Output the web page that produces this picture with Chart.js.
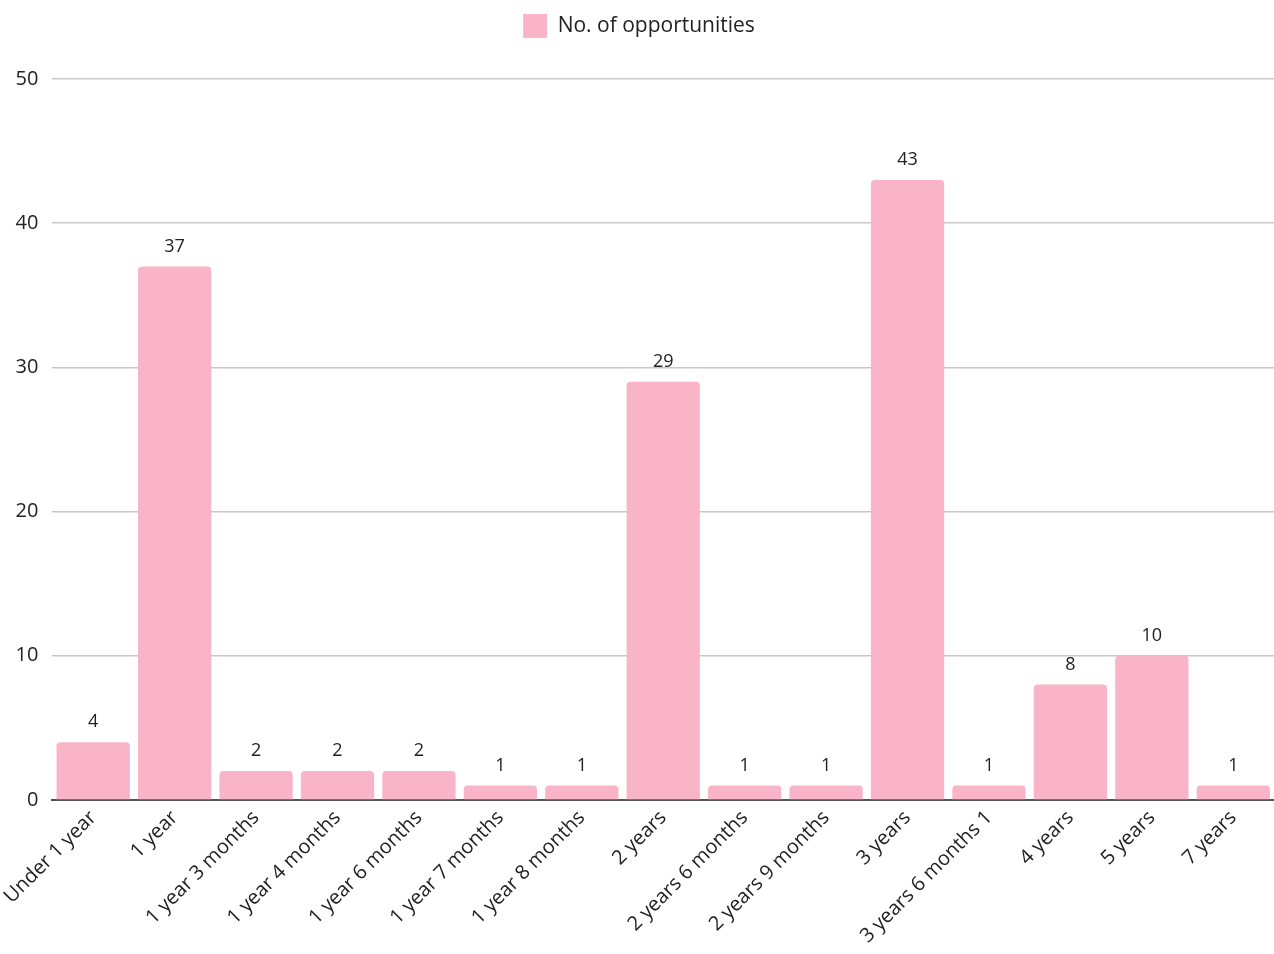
<!DOCTYPE html>
<html>
<head>
<meta charset="utf-8">
<script src="https://cdn.jsdelivr.net/npm/chart.js@4/dist/chart.umd.min.js"></script>
<style>
html,body{margin:0;padding:0;background:#fff;}
#wrap{width:1274px;height:954px;position:relative;}
</style>
</head>
<body>
<div id="wrap"><canvas id="c" width="1274" height="954"></canvas></div>
<script>
const categories = ["Under 1 year","1 year","1 year 3 months","1 year 4 months","1 year 6 months","1 year 7 months","1 year 8 months","2 years","2 years 6 months","2 years 9 months","3 years","3 years 6 months 1","4 years","5 years","7 years"];
const opportunities = [4,37,2,2,2,1,1,29,1,1,43,1,8,10,1];
const seriesName = "No. of opportunities";
const yTicks = [0,10,20,30,40,50];

const FONT = "'Open Sans', 'Noto Sans', sans-serif";

const valueLabels = {
  id: 'valueLabels',
  afterDatasetsDraw(chart) {
    const ctx = chart.ctx;
    const meta = chart.getDatasetMeta(0);
    ctx.save();
    ctx.font = "18px " + FONT;
    ctx.fillStyle = "#222";
    ctx.textAlign = "center";
    ctx.textBaseline = "bottom";
    meta.data.forEach((bar, i) => {
      ctx.fillText(String(opportunities[i]), bar.x, bar.y - 11);
    });
    ctx.restore();
  }
};

const legendSpacer = {
  id: 'legendSpacer',
  beforeInit(chart) {
    const orig = chart.legend.fit;
    chart.legend.fit = function() {
      orig.call(this);
      this.height += 31;
    };
  }
};

new Chart(document.getElementById('c'), {
  type: 'bar',
  data: {
    labels: categories,
    datasets: [{
      label: seriesName,
      data: opportunities,
      backgroundColor: '#f9b4c8',
      borderRadius: {topLeft: 4, topRight: 4, bottomLeft: 0, bottomRight: 0},
      borderSkipped: 'bottom',
      barPercentage: 0.9,
      categoryPercentage: 1.0
    }]
  },
  options: {
    responsive: false,
    animation: false,
    layout: {padding: {top: 0, right: -4, left: 0, bottom: 0}},
    plugins: {
      legend: {
        position: 'top',
        labels: {
          boxWidth: 24, boxHeight: 24, padding: 14,
          color: '#222',
          font: {family: FONT, size: 21}
        }
      },
      tooltip: {enabled: false}
    },
    scales: {
      x: {
        grid: {display: false, drawTicks: false},
        border: {display: true, color: '#555', width: 2},
        ticks: {
          color: '#222',
          font: {family: FONT, size: 20},
          minRotation: 45, maxRotation: 45,
          autoSkip: false,
          padding: 6
        }
      },
      y: {
        min: 0, max: 50,
        afterBuildTicks(scale) { scale.ticks = yTicks.map(v => ({value: v})); },
        afterFit(scale) { scale.width = 52; },
        grid: {color: '#c8c8c8', lineWidth: 1.5, drawTicks: false},
        border: {display: false},
        ticks: {
          color: '#222',
          font: {family: FONT, size: 20},
          padding: 14
        }
      }
    }
  },
  plugins: [valueLabels, legendSpacer]
});
</script>
</body>
</html>
